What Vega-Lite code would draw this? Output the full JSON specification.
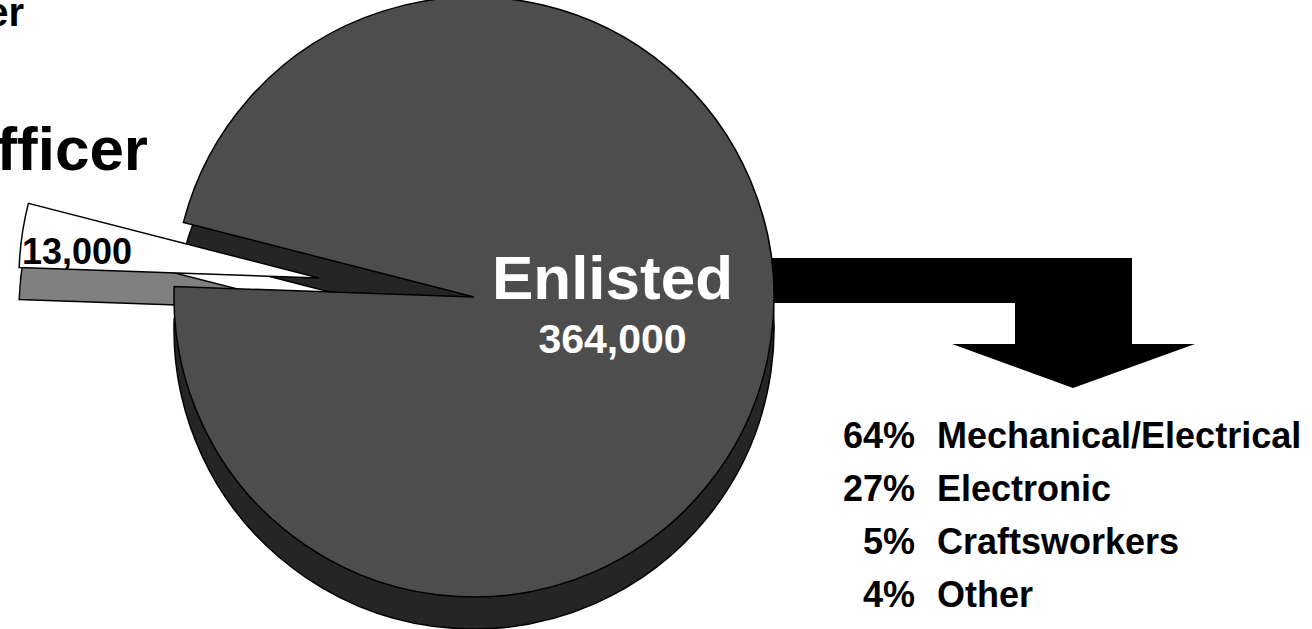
{
  "$schema": "https://vega.github.io/schema/vega-lite/v6.json",
  "width": 1312,
  "height": 629,
  "padding": 0,
  "autosize": {"type": "none"},
  "background": "white",
  "config": {"view": {"stroke": null}},
  "datasets": {
    "pie": [
      {"group": "Enlisted", "value": 364000},
      {"group": "Officer", "value": 13000}
    ],
    "mix": [
      {"rank": 1, "share": 0.64, "specialty": "Mechanical/Electrical"},
      {"rank": 2, "share": 0.27, "specialty": "Electronic"},
      {"rank": 3, "share": 0.05, "specialty": "Craftsworkers"},
      {"rank": 4, "share": 0.04, "specialty": "Other"}
    ]
  },
  "resolve": {"scale": {"y": "independent"}},
  "layer": [
    {
      "data": {"values": [{"item": "arrow"}]},
      "mark": {"type": "point", "shape": "M-1,-0.2989L0.7103,-0.2989L0.7103,0.0966L1,0.0966L0.4391,0.2989L-0.1172,0.0966L0.1724,0.0966L0.1724,-0.092L-1,-0.092Z", "size": 189225, "filled": true, "fill": "black", "opacity": 1, "strokeWidth": 0},
      "encoding": {
        "x": {"datum": 5.035, "type": "quantitative", "scale": {"domain": [-4.74, 8.38], "nice": false, "zero": false}, "axis": null},
        "y": {"datum": -0.26, "type": "quantitative", "scale": {"domain": [-3.32, 2.97], "nice": false, "zero": false}, "axis": null}
      }
    },
    {
      "data": {"name": "pie"},
      "transform": [
        {"stack": "value", "groupby": [], "as": ["v0", "v1"], "sort": [{"field": "group", "order": "ascending"}]},
        {"filter": "datum.group === 'Enlisted'"}
      ],
      "mark": {"type": "arc", "outerRadius": 300, "fill": "#252525", "stroke": "black", "strokeWidth": 1.5},
      "encoding": {
        "theta": {"field": "v0", "type": "quantitative", "stack": null, "scale": {"domain": [0, 377000], "range": [4.9637, 11.2469]}},
        "theta2": {"field": "v1"},
        "x": {"datum": 0, "type": "quantitative", "scale": {"domain": [-4.74, 8.38], "nice": false, "zero": false}, "axis": null},
        "y": {"datum": -0.32, "type": "quantitative", "scale": {"domain": [-3.32, 2.97], "nice": false, "zero": false}, "axis": null}
      }
    },
    {
      "data": {"name": "pie"},
      "transform": [
        {"stack": "value", "groupby": [], "as": ["v0", "v1"], "sort": [{"field": "group", "order": "ascending"}]},
        {"filter": "datum.group === 'Officer'"}
      ],
      "mark": {"type": "arc", "outerRadius": 300, "fill": "#808080", "stroke": "black", "strokeWidth": 1.5},
      "encoding": {
        "theta": {"field": "v0", "type": "quantitative", "stack": null, "scale": {"domain": [0, 377000], "range": [4.9637, 11.2469]}},
        "theta2": {"field": "v1"},
        "x": {"datum": -1.55, "type": "quantitative", "scale": {"domain": [-4.74, 8.38], "nice": false, "zero": false}, "axis": null},
        "y": {"datum": -0.13, "type": "quantitative", "scale": {"domain": [-3.32, 2.97], "nice": false, "zero": false}, "axis": null}
      }
    },
    {
      "data": {"name": "pie"},
      "transform": [
        {"stack": "value", "groupby": [], "as": ["v0", "v1"], "sort": [{"field": "group", "order": "ascending"}]},
        {"filter": "datum.group === 'Officer'"}
      ],
      "mark": {"type": "arc", "outerRadius": 300, "fill": "white", "stroke": "black", "strokeWidth": 1.5},
      "encoding": {
        "theta": {"field": "v0", "type": "quantitative", "stack": null, "scale": {"domain": [0, 377000], "range": [4.9637, 11.2469]}},
        "theta2": {"field": "v1"},
        "x": {"datum": -1.55, "type": "quantitative", "scale": {"domain": [-4.74, 8.38], "nice": false, "zero": false}, "axis": null},
        "y": {"datum": 0.19, "type": "quantitative", "scale": {"domain": [-3.32, 2.97], "nice": false, "zero": false}, "axis": null}
      }
    },
    {
      "data": {"name": "pie"},
      "transform": [
        {"stack": "value", "groupby": [], "as": ["v0", "v1"], "sort": [{"field": "group", "order": "ascending"}]},
        {"filter": "datum.group === 'Enlisted'"}
      ],
      "mark": {"type": "arc", "outerRadius": 300, "fill": "#4d4d4d", "stroke": "black", "strokeWidth": 1.5},
      "encoding": {
        "theta": {"field": "v0", "type": "quantitative", "stack": null, "scale": {"domain": [0, 377000], "range": [4.9637, 11.2469]}},
        "theta2": {"field": "v1"},
        "x": {"datum": 0, "type": "quantitative", "scale": {"domain": [-4.74, 8.38], "nice": false, "zero": false}, "axis": null},
        "y": {"datum": 0, "type": "quantitative", "scale": {"domain": [-3.32, 2.97], "nice": false, "zero": false}, "axis": null}
      }
    },
    {
      "data": {"name": "pie"},
      "transform": [{"filter": "datum.group === 'Enlisted'"}],
      "mark": {"type": "text", "align": "center", "baseline": "alphabetic", "font": "Liberation Sans", "fontWeight": "bold", "fontSize": 62, "fill": "white"},
      "encoding": {
        "text": {"field": "group"},
        "x": {"datum": 1.385, "type": "quantitative", "scale": {"domain": [-4.74, 8.38], "nice": false, "zero": false}, "axis": null},
        "y": {"datum": -0.02, "type": "quantitative", "scale": {"domain": [-3.32, 2.97], "nice": false, "zero": false}, "axis": null}
      }
    },
    {
      "data": {"name": "pie"},
      "transform": [{"filter": "datum.group === 'Enlisted'"}],
      "mark": {"type": "text", "align": "center", "baseline": "alphabetic", "font": "Liberation Sans", "fontWeight": "bold", "fontSize": 41, "fill": "white"},
      "encoding": {
        "text": {"field": "value", "type": "quantitative", "format": ","},
        "x": {"datum": 1.385, "type": "quantitative", "scale": {"domain": [-4.74, 8.38], "nice": false, "zero": false}, "axis": null},
        "y": {"datum": -0.56, "type": "quantitative", "scale": {"domain": [-3.32, 2.97], "nice": false, "zero": false}, "axis": null}
      }
    },
    {
      "data": {"name": "pie"},
      "transform": [{"filter": "datum.group === 'Officer'"}],
      "mark": {"type": "text", "align": "right", "baseline": "alphabetic", "font": "Liberation Sans", "fontWeight": "bold", "fontSize": 62, "fill": "black"},
      "encoding": {
        "text": {"field": "group"},
        "x": {"datum": -3.26, "type": "quantitative", "scale": {"domain": [-4.74, 8.38], "nice": false, "zero": false}, "axis": null},
        "y": {"datum": 1.27, "type": "quantitative", "scale": {"domain": [-3.32, 2.97], "nice": false, "zero": false}, "axis": null}
      }
    },
    {
      "data": {"name": "pie"},
      "transform": [{"filter": "datum.group === 'Officer'"}],
      "mark": {"type": "text", "align": "left", "baseline": "alphabetic", "font": "Liberation Sans", "fontWeight": "bold", "fontSize": 36, "fill": "black"},
      "encoding": {
        "text": {"field": "value", "type": "quantitative", "format": ","},
        "x": {"datum": -4.52, "type": "quantitative", "scale": {"domain": [-4.74, 8.38], "nice": false, "zero": false}, "axis": null},
        "y": {"datum": 0.33, "type": "quantitative", "scale": {"domain": [-3.32, 2.97], "nice": false, "zero": false}, "axis": null}
      }
    },
    {
      "data": {"values": [{"item": "title"}]},
      "mark": {"type": "text", "text": "er", "align": "right", "baseline": "alphabetic", "font": "Liberation Sans", "fontWeight": "bold", "fontSize": 40, "fill": "black"},
      "encoding": {
        "x": {"datum": -4.50, "type": "quantitative", "scale": {"domain": [-4.74, 8.38], "nice": false, "zero": false}, "axis": null},
        "y": {"datum": 2.71, "type": "quantitative", "scale": {"domain": [-3.32, 2.97], "nice": false, "zero": false}, "axis": null}
      }
    },
    {
      "data": {"name": "mix"},
      "encoding": {
        "y": {"field": "rank", "type": "quantitative", "scale": {"domain": [-7.453, 4.415], "reverse": true, "nice": false, "zero": false}, "axis": null}
      },
      "layer": [
        {
          "mark": {"type": "text", "align": "right", "baseline": "alphabetic", "font": "Liberation Sans", "fontWeight": "bold", "fontSize": 36, "fill": "black"},
          "encoding": {
            "text": {"field": "share", "type": "quantitative", "format": ".0%"},
            "x": {"datum": 4.41, "type": "quantitative", "scale": {"domain": [-4.74, 8.38], "nice": false, "zero": false}, "axis": null}
          }
        },
        {
          "mark": {"type": "text", "align": "left", "baseline": "alphabetic", "font": "Liberation Sans", "fontWeight": "bold", "fontSize": 36, "fill": "black"},
          "encoding": {
            "text": {"field": "specialty"},
            "x": {"datum": 4.63, "type": "quantitative", "scale": {"domain": [-4.74, 8.38], "nice": false, "zero": false}, "axis": null}
          }
        }
      ]
    }
  ]
}
